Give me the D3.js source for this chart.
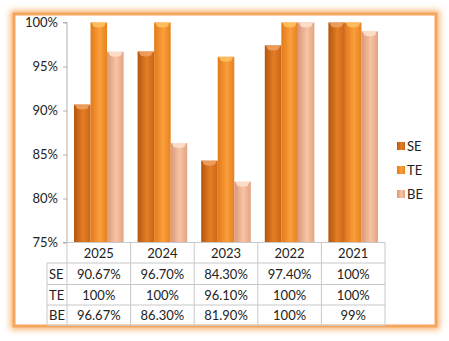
<!DOCTYPE html>
<html><head><meta charset="utf-8">
<script src="https://cdn.jsdelivr.net/npm/d3@7"></script>
<style>html,body{margin:0;padding:0;background:#fff;}svg{display:block;}</style>
</head><body>
<script>
const categories = ["2025", "2024", "2023", "2022", "2021"];
const seriesNames = ["SE", "TE", "BE"];
const seValues = [90.67, 96.70, 84.30, 97.40, 100];
const teValues = [100, 100, 96.10, 100, 100];
const beValues = [96.67, 86.30, 81.90, 100, 99];
const seLabels = ["90.67%", "96.70%", "84.30%", "97.40%", "100%"];
const teLabels = ["100%", "100%", "96.10%", "100%", "100%"];
const beLabels = ["96.67%", "86.30%", "81.90%", "100%", "99%"];
const yTicks = [75, 80, 85, 90, 95, 100];

const W = 449, H = 341;
const svg = d3.select("body").append("svg").attr("width", W).attr("height", H);
const defs = svg.append("defs");
const font = "Lato, 'Open Sans', sans-serif";

// glow filter
const f = defs.append("filter").attr("id", "glow").attr("x", "-10%").attr("y", "-10%").attr("width", "120%").attr("height", "120%");
f.append("feGaussianBlur").attr("stdDeviation", 3);

const palettes = [
  ["#b4560f", "#e57d24", "#c8661a"],
  ["#e27a18", "#fb9e3c", "#e4821f"],
  ["#d9977a", "#f8c4a4", "#e2a383"]
];
const capCols = ["#f0a060", "#ffc060", "#fde0cc"];
palettes.forEach((p, i) => {
  const g = defs.append("linearGradient").attr("id", "g" + i).attr("x1", 0).attr("x2", 1).attr("y1", 0).attr("y2", 0);
  g.append("stop").attr("offset", "0%").attr("stop-color", p[0]);
  g.append("stop").attr("offset", "55%").attr("stop-color", p[1]);
  g.append("stop").attr("offset", "100%").attr("stop-color", p[2]);
});

// frame with glow
svg.append("rect").attr("x", 14).attr("y", 14).attr("width", 422).attr("height", 312)
  .attr("fill", "none").attr("stroke", "#f6b06a").attr("stroke-width", 7).attr("filter", "url(#glow)");
svg.append("rect").attr("x", 14).attr("y", 14).attr("width", 422).attr("height", 312)
  .attr("fill", "#fff").attr("stroke", "#f4a65c").attr("stroke-width", 3);

const x0 = d3.scaleBand().domain(categories).range([67, 385]).paddingInner(0.22).paddingOuter(0.11);
const x1 = d3.scaleBand().domain(seriesNames).range([0, x0.bandwidth()]).padding(0);
const y = d3.scaleLinear().domain([75, 100]).range([242.5, 22.5]);

// y axis
const yAxis = d3.axisLeft(y).tickValues(yTicks).tickFormat(d => d + "%").tickSize(4).tickPadding(5);
const ga = svg.append("g").attr("transform", "translate(67,0)").call(yAxis);
ga.select(".domain").attr("stroke", "#b0b0b0").attr("d", "M-4,22.5H0V242.5H-4");
ga.selectAll(".tick line").attr("stroke", "#b0b0b0");
ga.selectAll("text").attr("font-family", font).attr("font-size", 13).attr("fill", "#222");

const allVals = [seValues, teValues, beValues];
seriesNames.forEach((s, si) => {
  const vals = allVals[si];
  const g = svg.append("g");
  g.selectAll("rect.bar").data(categories).join("rect")
    .attr("x", c => x0(c) + x1(s))
    .attr("width", x1.bandwidth())
    .attr("y", (c, i) => y(vals[i]))
    .attr("height", (c, i) => y(75) - y(vals[i]))
    .attr("fill", "url(#g" + si + ")");
  g.selectAll("path.cap").data(categories).join("path")
    .attr("d", (c, i) => {
      const bx = x0(c) + x1(s), bw = x1.bandwidth(), by = y(vals[i]);
      return `M${bx+1},${by}H${bx+bw-1}L${bx+bw-3},${by+4}Q${bx+bw/2},${by+6} ${bx+3},${by+4}Z`;
    })
    .attr("fill", capCols[si]).attr("opacity", 0.9);
});

// table
const rowsTop = 242.5, rowH = [20.5, 21.5, 20.5, 20.5];
const rowY = [rowsTop];
rowH.forEach((h, i) => rowY.push(rowY[i] + h));
const tbl = svg.append("g").attr("stroke", "#c8c8c8").attr("stroke-width", 1);
// horizontal lines
rowY.forEach((yy, i) => {
  tbl.append("line").attr("x1", i === 0 ? 67 : 47).attr("x2", 385).attr("y1", yy).attr("y2", yy);
});
const colEdges = [67, ...categories.map(c => x0(c) + x0.bandwidth() + x0.step() * x0.paddingInner() / 2)];
const colB = d3.range(6).map(i => 67 + i * (385 - 67) / 5);
colB.forEach(xx => tbl.append("line").attr("x1", xx).attr("x2", xx).attr("y1", rowsTop).attr("y2", rowY[4]));
tbl.append("line").attr("x1", 47).attr("x2", 47).attr("y1", rowY[1]).attr("y2", rowY[4]);

const tText = svg.append("g").attr("font-family", font).attr("font-size", 13).attr("fill", "#222").attr("text-anchor", "middle");
categories.forEach((c, i) => {
  const cx = (colB[i] + colB[i + 1]) / 2;
  tText.append("text").attr("x", cx).attr("y", (rowY[0] + rowY[1]) / 2 + 5).text(c);
  [seLabels, teLabels, beLabels].forEach((lab, r) => {
    tText.append("text").attr("x", cx).attr("y", (rowY[r + 1] + rowY[r + 2]) / 2 + 5).text(lab[i]);
  });
});
seriesNames.forEach((s, r) => {
  tText.append("text").attr("x", 49).attr("text-anchor", "start").attr("y", (rowY[r + 1] + rowY[r + 2]) / 2 + 5).text(s);
});

// legend
const lg = svg.append("g");
seriesNames.forEach((s, i) => {
  const ly = 146 + i * 24;
  lg.append("rect").attr("x", 397).attr("y", ly - 4).attr("width", 8).attr("height", 8).attr("fill", "url(#g" + i + ")");
  lg.append("text").attr("x", 407).attr("y", ly + 5).attr("font-family", font).attr("font-size", 13).attr("fill", "#222").text(s);
});
</script>
</body></html>
